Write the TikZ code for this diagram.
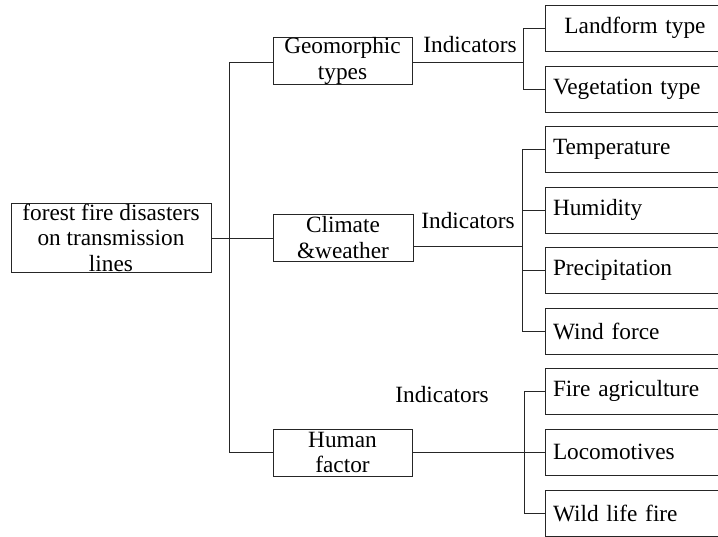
\documentclass[tikz,border=0pt]{standalone}
\usepackage{fontspec}
\setmainfont{Liberation Serif}
\newcommand\dfont{\fontsize{23.3pt}{25.5pt}\selectfont}
\begin{document}
\begin{tikzpicture}[x=1pt,y=-1pt,line width=1pt,
  box/.style={draw=black!85, inner sep=0pt, align=center, font=\dfont},
  leaf/.style={draw=black!85, minimum width=180pt, minimum height=46pt, text width=164pt,
    inner xsep=8pt, inner ysep=0pt, align=left, font=\dfont},
  lbl/.style={inner sep=0pt, font=\dfont},
  conn/.style={draw=black!85}]
\clip (0,0) rectangle (718,536);
% main and category boxes
\node[box, minimum width=200pt, minimum height=69pt] (main) at (111,237.5) {forest fire disasters\\on transmission\\lines};
\node[box, minimum width=139pt, minimum height=45pt] (geo) at (342.5,61) {Geomorphic\\types};
\node[box, minimum width=140pt, minimum height=47pt] (clim) at (343,237.5) {Climate\\\&weather};
\node[box, minimum width=139pt, minimum height=47pt] (hum) at (342.5,452.5) {Human\\factor};
% indicator labels
\node[lbl] (ind1) at (470,45) {Indicators};
\node[lbl] (ind2) at (468,221) {Indicators};
\node[lbl] (ind3) at (442,395) {Indicators};
% leaves
\node[leaf, align=center] (land) at (635,28) {Landform type};
\node[leaf] (veg)  at (635,89)  {Vegetation type};
\node[leaf] (temp) at (635,149) {Temperature};
\node[leaf] (humi) at (635,210) {Humidity};
\node[leaf] (prec) at (635,270) {Precipitation};
\node[leaf] (wind) at (635,331) {Wind force};
\node[leaf] (fire) at (635,391) {Fire agriculture};
\node[leaf] (loco) at (635,452) {Locomotives};
\node[leaf] (wild) at (635,513) {Wild life fire};
% trunk
\coordinate (t1) at (229,62);
\coordinate (t2) at (229,238);
\coordinate (t3) at (229,452);
\draw[conn] (main.east |- t2) -- (t2);
\draw[conn] (t1) -- (t3);
\draw[conn] (t1) -- (geo.west |- t1);
\draw[conn] (t2) -- (clim.west |- t2);
\draw[conn] (t3) -- (hum.west |- t3);
% geomorphic bracket
\coordinate (g0) at (523,62);
\coordinate (ga) at (523,28);
\coordinate (gb) at (523,89);
\draw[conn] (geo.east |- g0) -- (g0);
\draw[conn] (ga) -- (gb);
\draw[conn] (ga) -- (land.west);
\draw[conn] (gb) -- (veg.west);
% climate bracket
\coordinate (c0) at (522,246);
\coordinate (ca) at (522,149);
\coordinate (cb) at (522,210);
\coordinate (cc) at (522,270);
\coordinate (cd) at (522,331);
\draw[conn] (clim.east |- c0) -- (c0);
\draw[conn] (ca) -- (cd);
\draw[conn] (ca) -- (temp.west);
\draw[conn] (cb) -- (humi.west);
\draw[conn] (cc) -- (prec.west);
\draw[conn] (cd) -- (wind.west);
% human bracket
\coordinate (h0) at (524,452);
\coordinate (ha) at (524,391);
\coordinate (hc) at (524,513);
\draw[conn] (hum.east |- h0) -- (h0);
\draw[conn] (ha) -- (hc);
\draw[conn] (ha) -- (fire.west);
\draw[conn] (h0) -- (loco.west);
\draw[conn] (hc) -- (wild.west);
\end{tikzpicture}
\end{document}
